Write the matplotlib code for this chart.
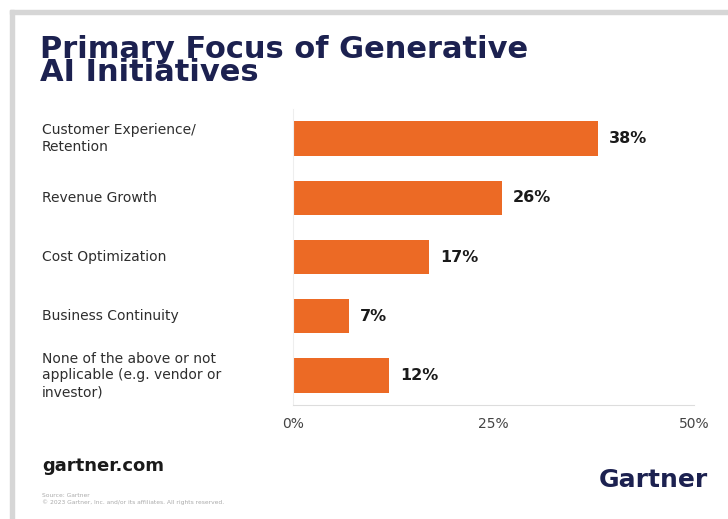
import matplotlib.pyplot as plt
from matplotlib.patches import Rectangle

# survey results, percent of respondents
categories = [
    "Customer Experience/\nRetention",
    "Revenue Growth",
    "Cost Optimization",
    "Business Continuity",
    "None of the above or not\napplicable (e.g. vendor or\ninvestor)",
]
shares = [38, 26, 17, 7, 12]
tick_values = [0, 25, 50]
tick_labels = ["0%", "25%", "50%"]

NAVY = "#1c2150"
ORANGE = "#ec6a25"
TEXT = "#2e2e2e"

fig = plt.figure(figsize=(7.28, 5.19), dpi=100)
fig.patch.set_facecolor("white")

# card edge along the top and left
fig.patches.append(Rectangle((10 / 728, 0), 4 / 728, 1 - 10 / 519,
                             transform=fig.transFigure, color="#d6d6d6", zorder=0))
fig.patches.append(Rectangle((10 / 728, 1 - 14 / 519), 1, 4 / 519,
                             transform=fig.transFigure, color="#d6d6d6", zorder=0))

ax = fig.add_axes([293 / 728, 1 - 405 / 519, 401 / 728, 296 / 519])
ypos = list(range(len(categories)))
ax.barh(ypos, shares, height=0.58, color=ORANGE, zorder=2)
ax.set_xlim(0, 50)
ax.set_ylim(len(categories) - 0.5, -0.5)

for y, v in zip(ypos, shares):
    ax.text(v + 1.4, y, f"{v}%", va="center", ha="left", fontsize=11.5,
            fontweight="heavy", color="#1a1a1a")

ax.set_yticks([])
ax.set_xticks(tick_values)
ax.set_xticklabels(tick_labels, fontsize=10, color="#444444")
ax.tick_params(axis="x", length=0, pad=9)
for side in ["top", "right"]:
    ax.spines[side].set_visible(False)
ax.spines["bottom"].set_color("#dddddd")
ax.spines["left"].set_color("#eeeeee")

# category labels on the left
for y, label in zip(ypos, categories):
    ax.text(-0.627, y, label, transform=ax.get_yaxis_transform(),
            va="center", ha="left", fontsize=10, color=TEXT, linespacing=1.25)

# tight two-line title, anchored on the baseline of its last line
fig.text(40 / 728, 1 - 81 / 519, "Primary Focus of Generative\nAI Initiatives",
         fontsize=22, fontweight="heavy", color=NAVY, va="baseline", ha="left",
         linespacing=0.72)

fig.text(42 / 728, 1 - 466 / 519, "gartner.com", fontsize=13, fontweight="bold",
         color="#1a1a1a", va="center", ha="left")
fig.text(42 / 728, 1 - 499 / 519,
         "Source: Gartner\n\u00a9 2023 Gartner, Inc. and/or its affiliates. All rights reserved.",
         fontsize=4.3, color="#aaaaaa", va="center", ha="left", linespacing=1.4)
fig.text(708 / 728, 1 - 480 / 519, "Gartner", fontsize=18, fontweight="bold",
         color=NAVY, va="center", ha="right")

fig.savefig("out.png", dpi=100)
